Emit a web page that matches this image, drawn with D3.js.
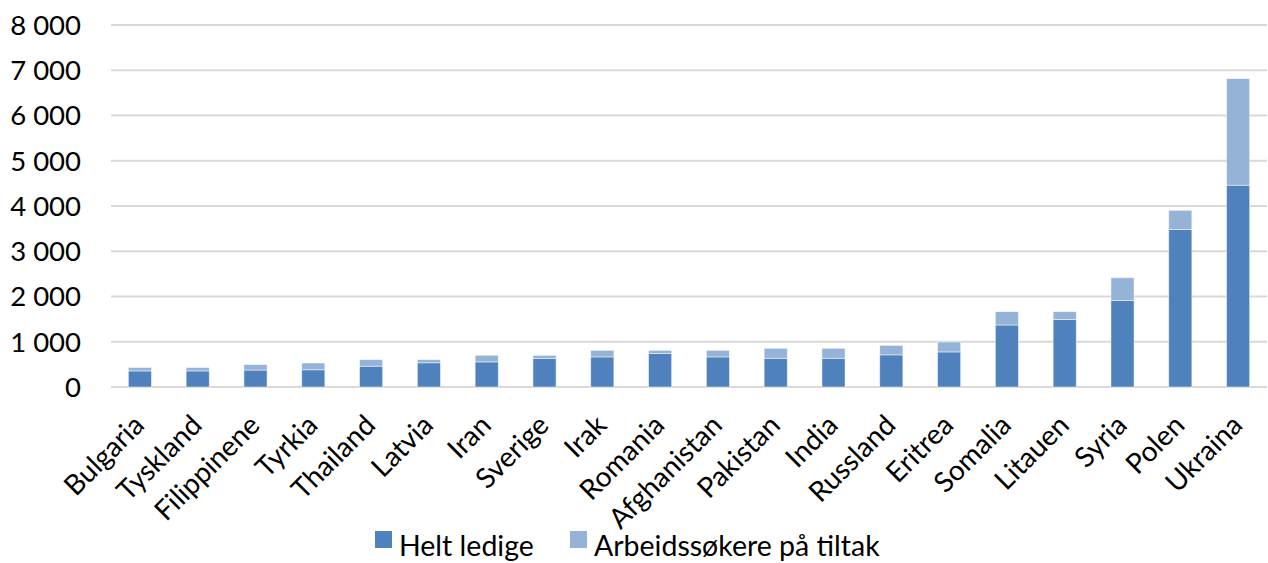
<!DOCTYPE html>
<html><head><meta charset="utf-8">
<script src="https://cdn.jsdelivr.net/npm/d3@7"></script>
<style>body{margin:0;background:#fff}svg{display:block}</style>
</head><body>
<svg id="c" width="1268" height="563"></svg>
<script>
const categories = ["Bulgaria","Tyskland","Filippinene","Tyrkia","Thailand","Latvia","Iran","Sverige","Irak","Romania","Afghanistan","Pakistan","India","Russland","Eritrea","Somalia","Litauen","Syria","Polen","Ukraina"];
const heltLedige = [355,355,375,380,460,535,555,630,665,740,665,635,635,710,775,1370,1490,1910,3480,4460];
const tiltak = [75,75,120,150,145,70,145,70,145,70,145,220,220,210,220,295,175,505,425,2355];
const seriesNames = ["Helt ledige","Arbeidssøkere på tiltak"];
const yTicks = [0,1000,2000,3000,4000,5000,6000,7000,8000];
const colors = ["#4F81BD","#95B3D7"];

const font = "Lato, 'Open Sans', sans-serif";
const svg = d3.select("#c");
const x = d3.scaleBand().domain(categories).range([111,1267]).paddingInner(0.6).paddingOuter(0.3);
const y = d3.scaleLinear().domain([0,8000]).range([387,25]);
const fmt = v => d3.format(",")(v).replace(/,/g," ");

// gridlines
svg.append("g").selectAll("line").data(yTicks).join("line")
  .attr("x1",111).attr("x2",1267)
  .attr("y1",d=>y(d)).attr("y2",d=>y(d))
  .attr("stroke","#D9D9D9").attr("stroke-width",1.8);

// y labels
svg.append("g").selectAll("text").data(yTicks).join("text")
  .attr("x",81).attr("y",d=>y(d)).attr("dy","0.36em")
  .attr("text-anchor","end").attr("font-family",font).attr("font-size",27.5).attr("fill","#000")
  .text(fmt);

const stacked = d3.stack().keys([0,1]).value((d,k)=>k===0?heltLedige[d]:tiltak[d])(d3.range(categories.length));
svg.append("g").selectAll("g").data(stacked).join("g")
  .attr("fill",(d,i)=>colors[i])
  .selectAll("rect").data(d=>d).join("rect")
  .attr("x",d=>x(categories[d.data]))
  .attr("width",x.bandwidth())
  .attr("y",d=>y(d[1]))
  .attr("height",d=>y(d[0])-y(d[1]))
  .attr("stroke","#fff").attr("stroke-opacity",0.6).attr("stroke-width",0.8);

// x labels
svg.append("g").selectAll("text").data(categories).join("text")
  .attr("transform",d=>`translate(${x(d)+x.bandwidth()/2+6},427) rotate(-45)`)
  .attr("text-anchor","end").attr("font-family",font).attr("font-size",28).attr("fill","#000")
  .text(d=>d);

// legend
const lg = svg.append("g");
const legendX = [375,570];
seriesNames.forEach((n,i)=>{
  lg.append("rect").attr("x",legendX[i]).attr("y",531).attr("width",17).attr("height",17).attr("fill",colors[i]);
  lg.append("text").attr("x",legendX[i]+24).attr("y",556).attr("font-family",font).attr("font-size",28.5).attr("fill","#000").text(n);
});
</script>
</body></html>
